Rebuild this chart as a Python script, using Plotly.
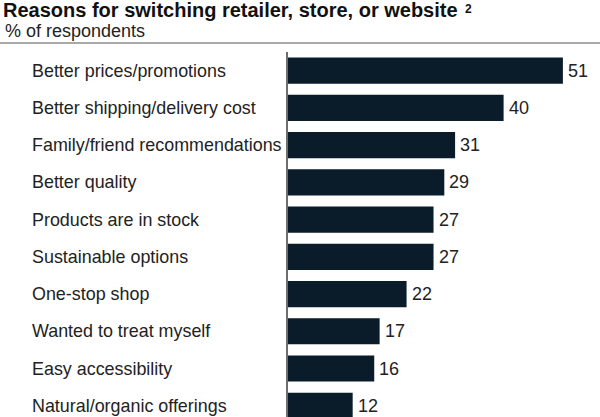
import plotly.graph_objects as go

categories = [
    "Better prices/promotions",
    "Better shipping/delivery cost",
    "Family/friend recommendations",
    "Better quality",
    "Products are in stock",
    "Sustainable options",
    "One-stop shop",
    "Wanted to treat myself",
    "Easy accessibility",
    "Natural/organic offerings",
]
values = [51, 40, 31, 29, 27, 27, 22, 17, 16, 12]
title_text = "Reasons for switching retailer, store, or website"
footnote_mark = "2"
subtitle_text = "% of respondents"

W, H = 600, 417
L, R, T, B = 288, 0, 52, 0
pw, ph = W - L - R, H - T - B

def px_x(x):
    return (x - L) / pw

def px_y(y):
    return (H - B - y) / ph

FONT = "Liberation Sans, Arial, sans-serif"
BAR = "#0a1b2a"

fig = go.Figure(
    go.Bar(
        x=values,
        y=categories,
        orientation="h",
        marker=dict(color=BAR, line=dict(width=0)),
        width=0.7,
        hoverinfo="skip",
    )
)

annotations = []
for c, v in zip(categories, values):
    annotations.append(dict(
        x=px_x(29.5), xref="paper", xanchor="left",
        y=c, yref="y", yanchor="middle",
        text=c, showarrow=False,
        font=dict(family=FONT, size=17.9, color="#222222"),
    ))
    annotations.append(dict(
        x=v, xref="x", xanchor="left", xshift=3,
        y=c, yref="y", yanchor="middle",
        text=str(v), showarrow=False,
        font=dict(family=FONT, size=18, color="#222222"),
    ))

annotations.append(dict(
    x=px_x(1), xref="paper", xanchor="left",
    y=px_y(10), yref="paper", yanchor="middle",
    text="<b>" + title_text + "</b>", showarrow=False,
    font=dict(family=FONT, size=20, color="#111111"),
))
annotations.append(dict(
    x=px_x(463), xref="paper", xanchor="left",
    y=px_y(8.5), yref="paper", yanchor="middle",
    text="<b>" + footnote_mark + "</b>", showarrow=False,
    font=dict(family=FONT, size=12, color="#111111"),
))
annotations.append(dict(
    x=px_x(3), xref="paper", xanchor="left",
    y=px_y(31.5), yref="paper", yanchor="middle",
    text=subtitle_text, showarrow=False,
    font=dict(family=FONT, size=18, color="#222222"),
))

fig.update_layout(
    width=W, height=H,
    margin=dict(l=L, r=R, t=T, b=B, pad=0),
    paper_bgcolor="white", plot_bgcolor="white",
    showlegend=False,
    annotations=annotations,
    shapes=[dict(
        type="line", xref="paper", yref="paper",
        x0=px_x(0), x1=px_x(600), y0=px_y(43), y1=px_y(43),
        line=dict(color="#8c8c8c", width=1.5),
    )],
    xaxis=dict(range=[0, pw / 5.39], visible=False, fixedrange=True),
    yaxis=dict(
        range=[len(categories) - 0.7, -0.5],
        showticklabels=False, ticks="",
        showline=True, linecolor="#6e6e6e", linewidth=1.5,
        showgrid=False, zeroline=False, fixedrange=True,
    ),
    bargap=0.3,
)

fig.write_html(
    "out.html",
    config={"displayModeBar": False},
    post_script="document.body.style.margin='0';document.body.style.padding='0';document.body.style.overflow='hidden';",
)
